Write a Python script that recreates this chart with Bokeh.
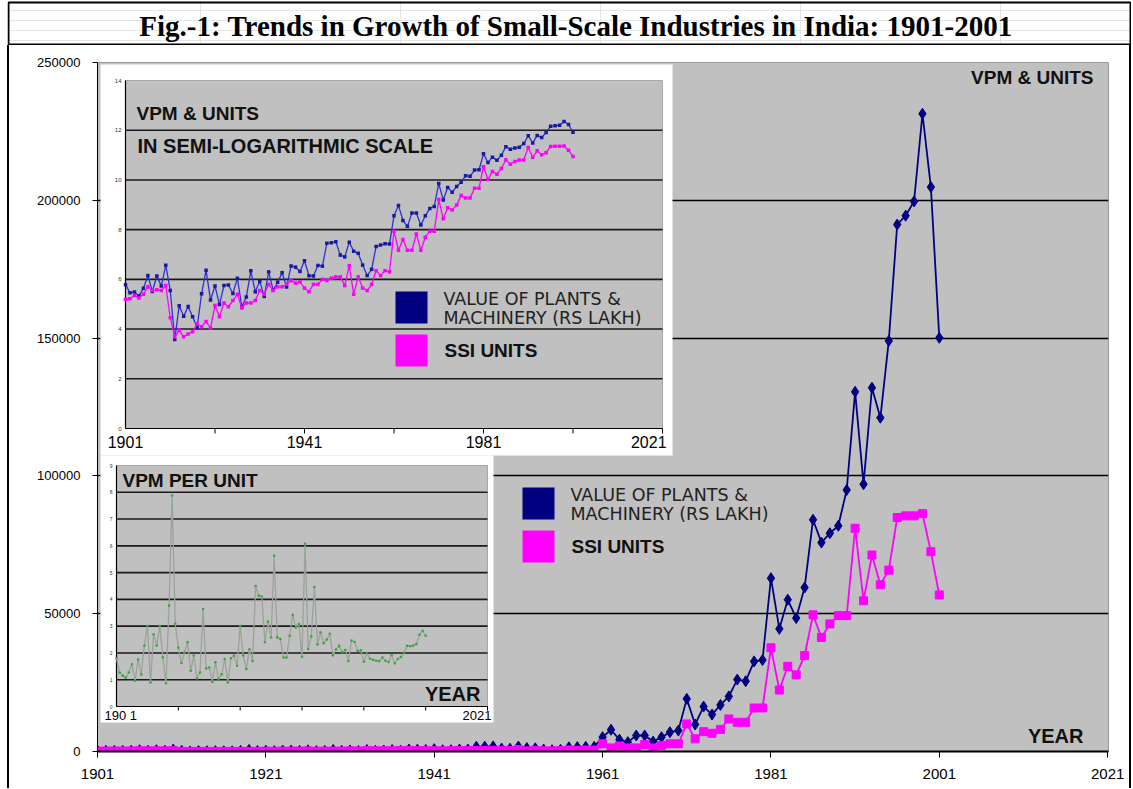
import numpy as np
from bokeh.plotting import figure
from bokeh.models import Range1d, FixedTicker, NumeralTickFormatter, Spacer
from bokeh.layouts import column, row
from bokeh.core.properties import value
from bokeh.embed import file_html
from bokeh.resources import INLINE

# ---------------- data ----------------
TITLE = "Fig.-1: Trends in Growth of Small-Scale Industries in India: 1901-2001"
YEARS = list(range(1901, 2002))
# Value of plants & machinery (Rs lakh)
VPM = [326, 235, 243, 206, 281, 472, 247, 464, 308, 713,
       258, 36, 140, 91, 135, 90, 58, 226, 583, 176,
       310, 146, 315, 322, 229, 420, 134, 198, 568, 244,
       375, 203, 545, 262, 359, 529, 297, 691, 659, 555,
       852, 466, 462, 706, 685, 1728, 1755, 1833, 1070, 995,
       1803, 1244, 1151, 716, 470, 604, 1510, 1604, 1687, 1679,
       5200, 7900, 4300, 3400, 5800, 5800, 3600, 5200, 7000, 7600,
       19100, 9800, 16300, 13400, 16900, 20000, 26100, 25500, 32700, 33200,
       62900, 44500, 55100, 48400, 59500, 84100, 75800, 79200, 81900, 94900,
       130500, 97000, 132000, 121100, 149000, 191200, 194400, 199600, 231400, 204800,
       150100]
# SSI units
UNITS = [181, 185, 211, 191, 221, 299, 257, 265, 257, 314,
         86, 40, 52, 40, 45, 49, 67, 60, 74, 57,
         141, 90, 156, 134, 172, 221, 128, 156, 156, 172,
         257, 221, 330, 257, 299, 299, 330, 384, 347, 365,
         284, 245, 330, 330, 403, 384, 424, 446, 446, 314,
         699, 221, 446, 284, 257, 330, 572, 469, 572, 545,
         2800, 1300, 2000, 1300, 1300, 2500, 1300, 2200, 2800, 2800,
         10000, 4600, 7200, 6600, 8000, 11800, 10600, 10600, 15800, 15800,
         37600, 22300, 30900, 27800, 34800, 49600, 41400, 46300, 49300, 49300,
         81000, 54700, 71300, 60500, 65800, 84900, 85500, 85500, 86300, 72500,
         56800]

MAIN_X_TICKS = [1901, 1921, 1941, 1961, 1981, 2001, 2021]
MAIN_Y_TICKS = [0, 50000, 100000, 150000, 200000, 250000]
MAIN_GRID = [50000, 100000, 150000, 200000]
LOG_Y_TICKS = [0, 2, 4, 6, 8, 10, 12, 14]
LOG_GRID = [2, 4, 6, 8, 10, 12]
LOG_X_LABELS = [1901, 1941, 1981, 2021]
LOG_X_TICKS = [1921, 1941, 1961, 1981, 2001, 2021]
PER_Y_TICKS = [0, 1, 2, 3, 4, 5, 6, 7, 8, 9]
PER_GRID = [1, 2, 3, 4, 5, 6, 7, 8]
PER_X_TICKS = [1921, 1941, 1961, 1981, 2001, 2021]
PER_X_LABELS = ["190 1", "2021"]
LEGEND_VPM = ["VALUE OF PLANTS &", "MACHINERY (RS LAKH)"]
LEGEND_UNITS = "SSI UNITS"

vpm = np.array(VPM, float)
units = np.array(UNITS, float)
ln_vpm = np.log(vpm)
ln_units = np.log(units)
per_unit = vpm / units

SANS = value("Liberation Sans")
WIDE = value("DejaVu Sans")
NAVY = "#000080"
MAG = "#ff00ff"

# ---------------- title box ----------------
TH = 45
tf = figure(width=1124, height=TH, title=None,
            x_range=Range1d(7, 1131), y_range=Range1d(TH, 0),
            x_axis_location=None, y_axis_location=None,
            toolbar_location=None, output_backend="svg", min_border=0,
            background_fill_color="white", border_fill_color="white",
            outline_line_color=None)
tf.quad(left=[8], right=[1130], top=[2], bottom=[44], fill_color=None,
        line_color="black", line_width=2)
tf.text(x=[575.5], y=[25], text=[TITLE], text_font=value("Liberation Serif"),
        text_font_style="bold", text_font_size="29px", text_align="center",
        text_baseline="middle", text_color="black")

# ---------------- main chart ----------------
FL, FR, FT, FB = 97, 1108, 62, 751   # frame in page pixels
X0, Y0 = 9, TH                        # main canvas origin in page pixels
MW, MH = 1120, 788 - TH
mf = figure(width=MW, height=MH, title=None,
            x_range=Range1d(1901, 2021.1), y_range=Range1d(0, 250000),
            toolbar_location=None, output_backend="svg",
            min_border_left=FL - X0, min_border_right=X0 + MW - FR,
            min_border_top=FT - Y0, min_border_bottom=Y0 + MH - FB,
            background_fill_color="#c0c0c0", border_fill_color="white",
            outline_line_color="#9a9a9a", outline_line_width=1)


def lin_range(v0, p0, v1, p1, f0, f1):
    k = (v1 - v0) / (p1 - p0)
    return Range1d(v0 + (f0 - p0) * k, v0 + (f1 - p0) * k)


mf.extra_x_ranges = {
    "px": Range1d(FL, FR),
    "i1": lin_range(1901, 125, 2021, 662, FL, FR),
    "i2": lin_range(1901, 116, 2021, 487, FL, FR),
}
mf.extra_y_ranges = {
    "px": Range1d(FB, FT),
    "i1": lin_range(0, 428, 14, 80, FB, FT),
    "i2": lin_range(0, 706, 9, 465, FB, FT),
}

mf.xaxis.ticker = FixedTicker(ticks=MAIN_X_TICKS)
mf.yaxis.ticker = FixedTicker(ticks=MAIN_Y_TICKS)
mf.yaxis.formatter = NumeralTickFormatter(format="0")
for ax in (mf.xaxis, mf.yaxis):
    ax.major_label_text_font = "Liberation Sans"
    ax.major_label_text_color = "black"
    ax.axis_line_color = "black"
    ax.major_tick_line_color = "black"
    ax.major_tick_in = 0
    ax.minor_tick_out = 0
    ax.minor_tick_in = 0
mf.yaxis.major_label_text_font_size = "13px"
mf.yaxis.major_tick_out = 5
mf.yaxis.major_label_standoff = 12
mf.xaxis.major_label_text_font_size = "15px"
mf.xaxis.major_tick_out = 6
mf.xaxis.major_label_standoff = 11
mf.xaxis.axis_line_width = 2
mf.xgrid.visible = False
mf.ygrid.ticker = FixedTicker(ticks=MAIN_GRID)
mf.ygrid.grid_line_color = "black"
mf.ygrid.grid_line_width = 1.6


def ptext(x, y, txt, size, bold=False, align="left", color="black",
          xr="px", yr="px", font=SANS):
    mf.text(x=x, y=y, text=txt, x_range_name=xr, y_range_name=yr,
            text_font=font, text_font_size=f"{size}px",
            text_font_style="bold" if bold else "normal",
            text_align=align, text_baseline="middle", text_color=color)


def legend(x_box, y_vpm, y_units, x_txt):
    mf.quad(left=[x_box], right=[x_box + 32], top=[y_vpm - 16], bottom=[y_vpm + 16],
            x_range_name="px", y_range_name="px", fill_color=NAVY, line_color=None)
    mf.quad(left=[x_box], right=[x_box + 32], top=[y_units - 16], bottom=[y_units + 16],
            x_range_name="px", y_range_name="px", fill_color=MAG, line_color=None)
    ptext([x_txt, x_txt], [y_vpm - 9, y_vpm + 10], LEGEND_VPM, 17.5,
          color="#222222", font=WIDE)
    ptext([x_txt + 1], [y_units], [LEGEND_UNITS], 19, bold=True, color="#111111")


# ---- inset 1: semi-log ----
mf.quad(left=[100], right=[672], top=[64], bottom=[455], x_range_name="px",
        y_range_name="px", fill_color="white", line_color=None)
mf.quad(left=[1901], right=[2021], bottom=[0], top=[14], x_range_name="i1",
        y_range_name="i1", fill_color="#c0c0c0", line_color="#a8a8a8", line_width=1)
n = len(LOG_GRID)
mf.segment(x0=[1901] * n, x1=[2021] * n, y0=LOG_GRID, y1=LOG_GRID,
           x_range_name="i1", y_range_name="i1", line_color="#1a1a1a", line_width=1.6)
mf.segment(x0=[1901, 1901], x1=[1901, 2021], y0=[0, 0], y1=[14, 0],
           x_range_name="i1", y_range_name="i1", line_color="black", line_width=1.2)
m = len(LOG_X_TICKS)
mf.segment(x0=LOG_X_TICKS, x1=LOG_X_TICKS, y0=[0] * m, y1=[-0.2] * m,
           x_range_name="i1", y_range_name="i1", line_color="black", line_width=1)
ptext([121] * len(LOG_Y_TICKS), LOG_Y_TICKS, [str(t) for t in LOG_Y_TICKS], 6,
      align="right", color="#333333", yr="i1")
ptext(LOG_X_LABELS[:-1], [441] * 3, [str(t) for t in LOG_X_LABELS[:-1]], 16,
      align="center", xr="i1")
ptext([LOG_X_LABELS[-1] + 0.9], [441], [str(LOG_X_LABELS[-1])], 16, align="right", xr="i1")
ptext([136], [113], ["VPM & UNITS"], 19, bold=True, color="#111111")
ptext([137], [145], ["IN SEMI-LOGARITHMIC SCALE"], 20, bold=True, color="#111111")
legend(395, 307, 350, 443)
mf.line(YEARS, ln_vpm, x_range_name="i1", y_range_name="i1", line_color="#2f2fd6",
        line_width=1.3)
mf.scatter(YEARS, ln_vpm, x_range_name="i1", y_range_name="i1", marker="square",
           size=3.5, fill_color="#1a1aa0", line_color=None)
mf.line(YEARS, ln_units, x_range_name="i1", y_range_name="i1", line_color=MAG,
        line_width=1.3)
mf.scatter(YEARS, ln_units, x_range_name="i1", y_range_name="i1", marker="square",
           size=3.5, fill_color=MAG, line_color=None)

# ---- inset 2: VPM per unit ----
mf.quad(left=[100], right=[493], top=[455], bottom=[722], x_range_name="px",
        y_range_name="px", fill_color="white", line_color=None)
mf.quad(left=[1901], right=[2021], bottom=[0], top=[9], x_range_name="i2",
        y_range_name="i2", fill_color="#c0c0c0", line_color="#a8a8a8", line_width=1)
n = len(PER_GRID)
mf.segment(x0=[1901] * n, x1=[2021] * n, y0=PER_GRID, y1=PER_GRID,
           x_range_name="i2", y_range_name="i2", line_color="#1a1a1a", line_width=1.6)
mf.segment(x0=[1901, 1901], x1=[1901, 2021], y0=[0, 0], y1=[9, 0],
           x_range_name="i2", y_range_name="i2", line_color="black", line_width=1.2)
m = len(PER_X_TICKS)
mf.segment(x0=PER_X_TICKS, x1=PER_X_TICKS, y0=[0] * m, y1=[-0.15] * m,
           x_range_name="i2", y_range_name="i2", line_color="black", line_width=1)
ptext([112] * len(PER_Y_TICKS), PER_Y_TICKS, [str(t) for t in PER_Y_TICKS], 5,
      align="right", color="#333333", yr="i2")
ptext([104], [715], [PER_X_LABELS[0]], 13)
ptext([491], [715], [PER_X_LABELS[1]], 13, align="right")
ptext([122], [480], ["VPM PER UNIT"], 19, bold=True, color="#111111")
ptext([480], [693], ["YEAR"], 20, bold=True, align="right", color="#111111")
mf.line(YEARS, per_unit, x_range_name="i2", y_range_name="i2", line_color="#9aa39a",
        line_width=1.3)
mf.scatter(YEARS, per_unit, x_range_name="i2", y_range_name="i2", marker="circle",
           size=2.6, fill_color="#3aa63a", line_color=None)

# ---- main texts & legend ----
ptext([1093], [77], ["VPM & UNITS"], 19, bold=True, align="right", color="#111111")
ptext([1083], [735], ["YEAR"], 20, bold=True, align="right", color="#111111")
legend(522, 503, 546, 570)

# ---- main series ----
mf.line(YEARS, VPM, line_color=NAVY, line_width=1.8)
mf.scatter(YEARS, VPM, marker="diamond", size=11, fill_color=NAVY, line_color=NAVY)
mf.line(YEARS, UNITS, line_color=MAG, line_width=1.8)
mf.scatter(YEARS, UNITS, marker="square", size=8, fill_color=MAG, line_color=MAG)

edge_l = Spacer(width=2, height=MH, styles={"background-color": "black"})
edge_r = Spacer(width=2, height=MH, styles={"background-color": "black"})
pad = Spacer(width=7, height=788)
layout = row(pad, column(tf, row(edge_l, mf, edge_r, spacing=0), spacing=0), spacing=0)

open("out.html", "w").write(file_html(layout, INLINE))
